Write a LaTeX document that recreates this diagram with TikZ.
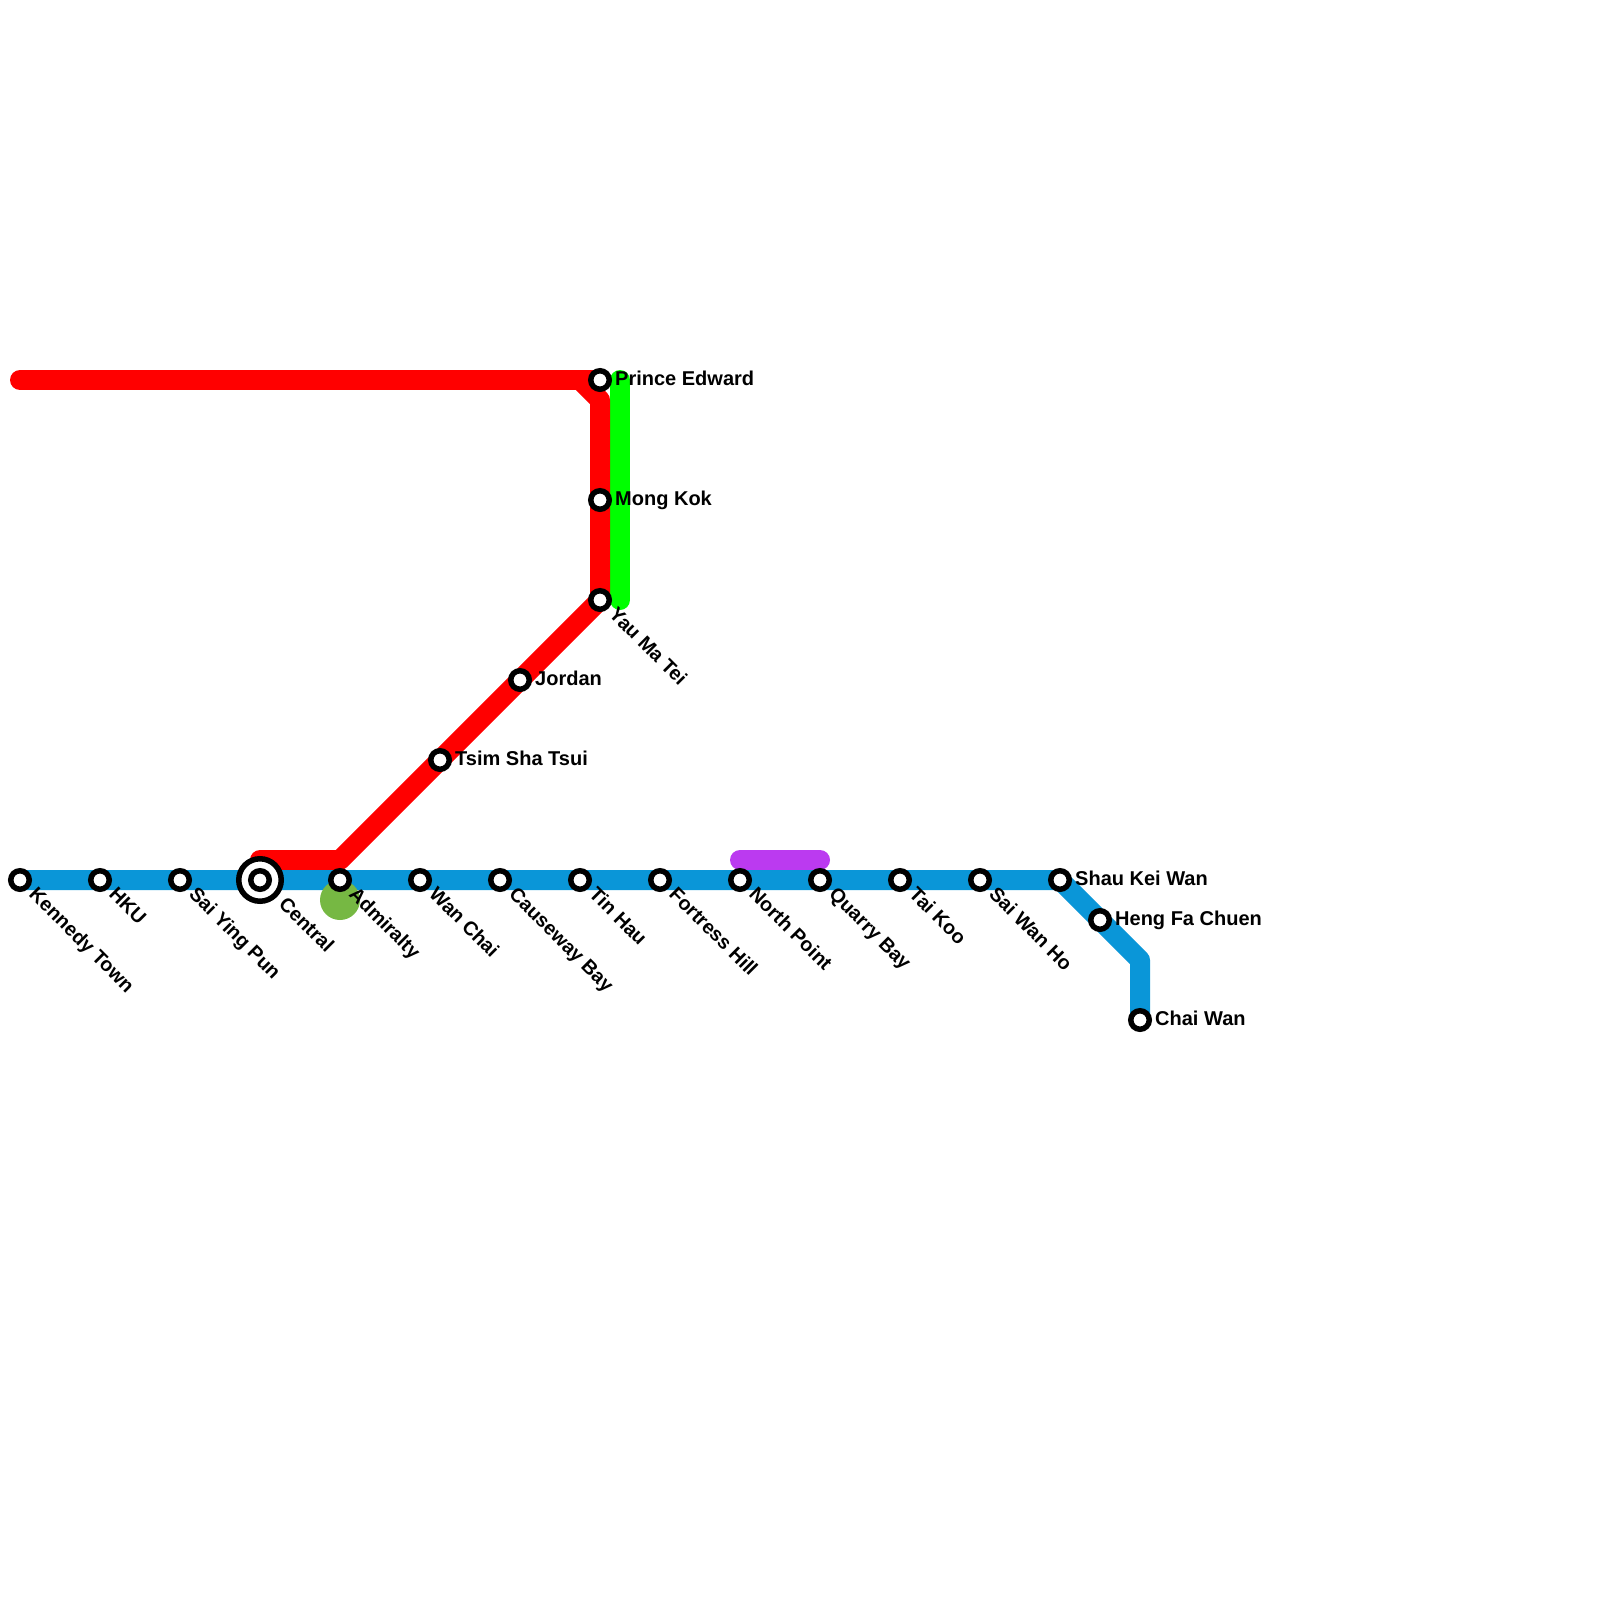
\documentclass[tikz,border=0pt]{standalone}
\usepackage{fontspec}
\setmainfont{Liberation Sans}
\usetikzlibrary{backgrounds}
\definecolor{bluel}{HTML}{0A96D8}
\definecolor{redl}{HTML}{FF0000}
\definecolor{greenl}{HTML}{00FF00}
\definecolor{purplel}{HTML}{BB3AF0}
\definecolor{dotgreen}{HTML}{76B843}
\tikzset{
  x=1pt,y=-1pt,
  stn/.style={circle,draw=black,fill=white,line width=5.5pt,minimum size=18.5pt,inner sep=0pt,outer sep=0pt},
  hub/.style={circle,draw=black,fill=white,line width=5.5pt,minimum size=42.5pt,inner sep=0pt,outer sep=0pt},
  route/.style={line width=20pt,line cap=round,line join=round},
  lab/.style={font=\fontsize{20}{24}\selectfont\bfseries,text=black,inner sep=0pt,text height=14.5pt,text depth=4pt,anchor=west},
  rlab/.style={lab,font=\fontsize{19.7}{24}\selectfont\bfseries,rotate=-45,transform shape},
}
\begin{document}
\begin{tikzpicture}
\useasboundingbox (0,0) rectangle (1600,1600);
% bend points
\coordinate (redA) at (580,380);
\coordinate (redB) at (600,400);
\coordinate (redC) at (340,860);
\coordinate (redD) at (260,860);
\coordinate (redE) at (20,380);
\coordinate (grnA) at (620,380);
\coordinate (grnB) at (620,600);
\coordinate (purA) at (740,860);
\coordinate (purB) at (820,860);
\coordinate (bluB) at (1140,960);
% stations
\node[hub] (central) at (260,880) {};
\foreach \n/\x/\y in {kennedy/20/880,hku/100/880,saiying/180/880,central2/260/880,admiralty/340/880,wanchai/420/880,causeway/500/880,tinhau/580/880,fortress/660/880,north/740/880,quarry/820/880,taikoo/900/880,saiwan/980/880,shau/1060/880,heng/1100/920,chai/1140/1020,tst/440/760,jordan/520/680,yau/600/600,mong/600/500,prince/600/380}
  \node[stn] (\n) at (\x,\y) {};
% lines
\begin{pgfonlayer}{background}
\draw[route,greenl] (grnA) -- (grnB);
\draw[route,redl] (redE) -- (prince.center);
\draw[route,redl] (redD) -- (redC) -- (jordan.center) -- (yau.center) -- (mong.center) -- (redB) -- (redA);
\draw[route,purplel] (purA) -- (purB);
\draw[route,bluel] (kennedy.center) -- (shau.center) -- (heng.center) -- (bluB) -- (chai.center);
\node[circle,fill=dotgreen,minimum size=40pt,inner sep=0pt] (dot) at (340,900) {};
\end{pgfonlayer}
% labels
\foreach \n/\t in {kennedy/Kennedy Town,hku/HKU,saiying/Sai Ying Pun,admiralty/Admiralty,wanchai/Wan Chai,causeway/Causeway Bay,tinhau/Tin Hau,fortress/Fortress Hill,north/North Point,quarry/Quarry Bay,taikoo/Tai Koo,saiwan/Sai Wan Ho,yau/Yau Ma Tei}
  \node[rlab] (l\n) at ([shift={(11.7,11.7)}]\n.center) {\t};
\node[rlab] (lcentral) at ([shift={(21.5,21.5)}]central.center) {Central};
\foreach \n/\t in {prince/Prince Edward,mong/Mong Kok,jordan/Jordan,tst/Tsim Sha Tsui,shau/Shau Kei Wan,heng/Heng Fa Chuen,chai/Chai Wan}
  \node[lab] (l\n) at ([shift={(15,0)}]\n.center) {\t};
\end{tikzpicture}
\end{document}
